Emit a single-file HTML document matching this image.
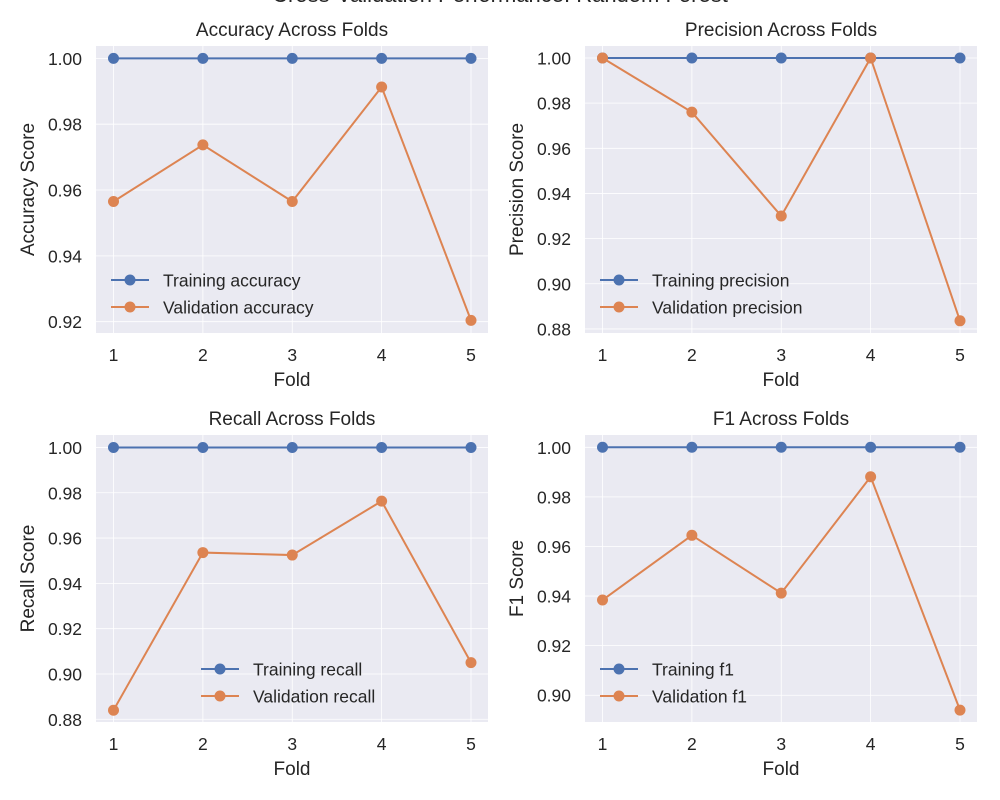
<!DOCTYPE html>
<html><head><meta charset="utf-8"><style>
html,body{margin:0;padding:0;background:#fff;}
svg{display:block;font-family:"Liberation Sans","DejaVu Sans",sans-serif;}
</style></head><body>
<svg id="fig" width="1000" height="800" viewBox="0 0 1000 800">
<text x="500" y="2" text-anchor="middle" font-size="22" fill="#262626">Cross-Validation Performance: Random Forest</text>
</svg>
<script>
const folds = [1, 2, 3, 4, 5];
const accTrain = [1, 1, 1, 1, 1];
const accVal = [0.9565, 0.9737, 0.9565, 0.9913, 0.9204];
const precTrain = [1, 1, 1, 1, 1];
const precVal = [1.0, 0.976, 0.930, 1.0, 0.8836];
const recTrain = [1, 1, 1, 1, 1];
const recVal = [0.884, 0.9536, 0.9525, 0.9763, 0.905];
const f1Train = [1, 1, 1, 1, 1];
const f1Val = [0.9384, 0.9645, 0.9412, 0.9881, 0.894];
const accTicks = [0.92, 0.94, 0.96, 0.98, 1.00];
const precTicks = [0.88, 0.90, 0.92, 0.94, 0.96, 0.98, 1.00];
const recTicks = [0.88, 0.90, 0.92, 0.94, 0.96, 0.98, 1.00];
const f1Ticks = [0.90, 0.92, 0.94, 0.96, 0.98, 1.00];

const NS = 'http://www.w3.org/2000/svg';
const svg = document.getElementById('fig');
function mk(tag, attrs, parent) {
  const e = document.createElementNS(NS, tag);
  for (const k in attrs) e.setAttribute(k, attrs[k]);
  (parent || svg).appendChild(e);
  return e;
}
const BLUE = '#4c72b0', ORANGE = '#dd8452';

function panel(o) {
  const g = mk('g', {});
  
  
  const L = o.x0, R = o.x0 + 392, T = o.y0, B = o.y0 + 287;
  const xs = v => L + 17.5 + (v - 1) * (357.5 / 4);
  const ys = v => T + (o.ymax - v) / (o.ymax - o.ymin) * (B - T);
  const bg = mk('rect', {x: L, y: T, width: R - L, height: B - T, fill: '#eaeaf2'}, g);
  
  
  folds.forEach(f => {
    const l = mk('line', {x1: xs(f), x2: xs(f), y1: T, y2: B, stroke: '#fff', 'stroke-width': 0.8}, g);
    
    
    const t = mk('text', {x: xs(f), y: B + 28, 'text-anchor': 'middle', 'font-size': 17.5, fill: '#262626'}, g);
    
    
    t.textContent = f;
  });
  o.ticks.forEach(v => {
    const l = mk('line', {x1: L, x2: R, y1: ys(v), y2: ys(v), stroke: '#fff', 'stroke-width': 0.8}, g);
    
    
    const t = mk('text', {x: L - 14, y: ys(v) + 6.5, 'text-anchor': 'end', 'font-size': 17.5, fill: '#262626'}, g);
    
    
    t.textContent = v.toFixed(2);
  });
  const tt = mk('text', {x: (L + R) / 2, y: T - 10, 'text-anchor': 'middle', 'font-size': 19, fill: '#262626'}, g);
  
  
  tt.textContent = o.title;
  const xl = mk('text', {x: (L + R) / 2, y: B + 53, 'text-anchor': 'middle', 'font-size': 19, fill: '#262626'}, g);
  
  
  xl.textContent = 'Fold';
  const yl = mk('text', {x: 0, y: 0, 'text-anchor': 'middle', 'font-size': 19, fill: '#262626', transform: `translate(${L - 62},${(T + B) / 2}) rotate(-90)`}, g);
  
  
  yl.textContent = o.ylabel;
  [[o.train, BLUE, 'training'], [o.val, ORANGE, 'validation']].forEach(([arr, c, n]) => {
    const pl = mk('polyline', {points: arr.map((v, i) => xs(folds[i]) + ',' + ys(v)).join(' '), fill: 'none', stroke: c, 'stroke-width': 2}, g);
    
    
    arr.forEach((v, i) => {
      const p = mk('circle', {cx: xs(folds[i]), cy: ys(v), r: 5.5, fill: c}, g);
      
      
    });
  });
  const lg = mk('g', {}, g);
  
  
  [[BLUE, 'Training ' + o.metric, o.ly], [ORANGE, 'Validation ' + o.metric, o.ly + 27]].forEach(([c, txt, y]) => {
    const e = mk('g', {}, lg);
    
    
    mk('line', {x1: o.lx - 19, x2: o.lx + 19, y1: y, y2: y, stroke: c, 'stroke-width': 2}, e);
    mk('circle', {cx: o.lx, cy: y, r: 5.5, fill: c}, e);
    const t = mk('text', {x: o.lx + 33, y: y + 6.5, 'font-size': 17.5, fill: '#262626'}, e);
    t.textContent = txt;
  });
}
panel({key: 'accuracy', title: 'Accuracy Across Folds', ylabel: 'Accuracy Score', metric: 'accuracy', x0: 96, y0: 46, ymax: 1.00375, ymin: 0.91656, ticks: accTicks, train: accTrain, val: accVal, lx: 130, ly: 280});
panel({key: 'precision', title: 'Precision Across Folds', ylabel: 'Precision Score', metric: 'precision', x0: 585, y0: 46, ymax: 1.0053, ymin: 0.8782, ticks: precTicks, train: precTrain, val: precVal, lx: 619, ly: 280});
panel({key: 'recall', title: 'Recall Across Folds', ylabel: 'Recall Score', metric: 'recall', x0: 96, y0: 435, ymax: 1.0055, ymin: 0.8788, ticks: recTicks, train: recTrain, val: recVal, lx: 220, ly: 669});
panel({key: 'f1', title: 'F1 Across Folds', ylabel: 'F1 Score', metric: 'f1', x0: 585, y0: 435, ymax: 1.00496, ymin: 0.8892, ticks: f1Ticks, train: f1Train, val: f1Val, lx: 619, ly: 669});
</script>
</body></html>
